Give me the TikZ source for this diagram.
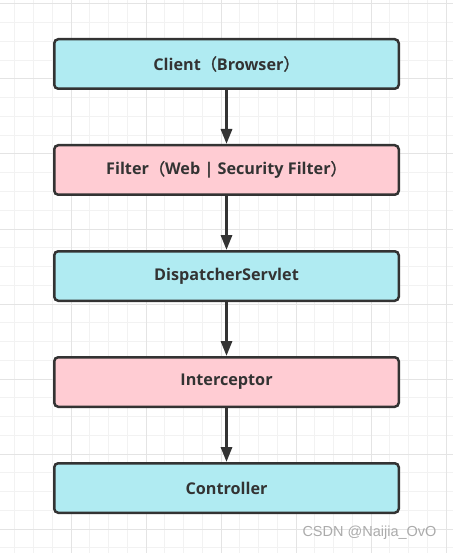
\documentclass[tikz,border=0pt]{standalone}
\usepackage{fontspec}
\setmainfont{Open Sans}
\newfontfamily\cjk{Noto Sans CJK SC}[AutoFakeBold=2]
\newfontfamily\wmfont{Liberation Sans}
\usetikzlibrary{positioning,arrows.meta}
\definecolor{boxcyan}{HTML}{B0EBF2}
\definecolor{boxpink}{HTML}{FFCCD3}
\definecolor{darkline}{HTML}{333333}
\definecolor{gridminor}{HTML}{F2F2F2}
\definecolor{gridmajor}{HTML}{E4E4E4}
\definecolor{wmgray}{HTML}{ABABAB}

\begin{document}
\begin{tikzpicture}[x=1pt, y=-1pt,
  layer/.style={draw=darkline, line width=2.5pt, rounded corners=4pt,
    minimum width=344.5pt, minimum height=49.5pt, inner sep=0pt,
    font=\bfseries\fontsize{16.2}{18}\selectfont, text=darkline},
  flow/.style={draw=darkline, line width=3pt, -{Triangle[width=11pt,length=15pt]}},
  node distance=54pt]
  % Paper and the grid behind the diagram.
  \useasboundingbox (0,0) rectangle (453,553);
  \fill[white] (0,0) rectangle (453,553);
  \foreach \k in {1,...,24}
    \draw[gridminor, line width=1pt] ({-4+18.75*\k},0) -- ({-4+18.75*\k},553);
  \foreach \k in {0,...,29}
    \draw[gridminor, line width=1pt] (0,{4+18.75*\k}) -- (453,{4+18.75*\k});
  \foreach \k in {1,...,6}
    \draw[gridmajor, line width=1pt] ({-4+75*\k},0) -- ({-4+75*\k},553);
  \foreach \k in {0,...,7}
    \draw[gridmajor, line width=1pt] (0,{4+75*\k}) -- (453,{4+75*\k});

  % The request passes down through these layers.
  \node[layer, fill=boxcyan] (client) at (226.5,64) {Client{\cjk （}Browser{\cjk ）}};
  \node[layer, fill=boxpink, below=of client] (filter) {Filter{\cjk （}Web | Security Filter{\cjk ）}};
  \node[layer, fill=boxcyan, below=of filter] (dispatcher) {DispatcherServlet};
  \node[layer, fill=boxpink, below=of dispatcher] (interceptor) {Interceptor};
  \node[layer, fill=boxcyan, below=of interceptor] (controller) {Controller};

  \draw[flow] (client) -- (filter);
  \draw[flow] (filter) -- (dispatcher);
  \draw[flow] (dispatcher) -- (interceptor);
  \draw[flow] (interceptor) -- (controller);

  % Watermark.
  \node[font=\wmfont\fontsize{14.5}{16}\selectfont, text=wmgray] (credit) at (369.5,533) {CSDN @Naijia\_OvO};
\end{tikzpicture}
\end{document}
